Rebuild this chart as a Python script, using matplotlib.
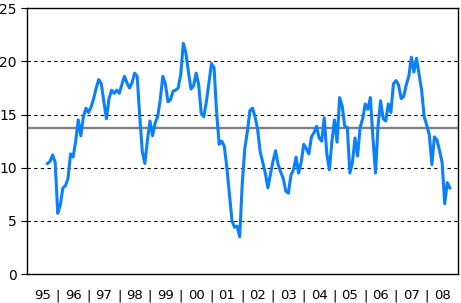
import matplotlib
matplotlib.use("Agg")
import matplotlib.pyplot as plt
import numpy as np

# monthly series, Sep 1995 .. Oct 2008
first_month = "1995-09"
values = [
    10.4, 10.6, 11.2, 10.5, 5.7, 6.5, 8.1, 8.3, 9.0, 11.3, 11.0, 12.5,
    14.5, 13.0, 14.8, 15.6, 15.2, 15.7, 16.5, 17.5, 18.3, 17.9, 16.2, 14.6,
    16.5, 17.3, 17.0, 17.3, 17.0, 17.8, 18.6, 18.0, 17.5, 18.0, 18.9, 18.6,
    14.8, 11.5, 10.4, 12.6, 14.4, 13.0, 14.2, 14.8, 16.4, 18.6, 17.9, 16.2,
    16.4, 17.2, 17.3, 17.5, 18.8, 21.7, 20.8, 19.0, 17.4, 17.7, 18.9, 17.8,
    15.1, 14.8, 16.2, 18.0, 19.8, 19.4, 15.2, 12.2, 12.5, 12.0, 10.0, 7.5,
    5.0, 4.4, 4.5, 3.5, 8.5, 11.8, 13.4, 15.4, 15.6, 14.8, 13.6, 11.5,
    10.5, 9.5, 8.1, 9.4, 10.6, 11.6, 10.3, 9.6, 9.0, 7.8, 7.6, 9.3,
    9.8, 11.0, 9.5, 10.5, 12.2, 11.8, 11.3, 12.9, 13.3, 13.9, 12.8, 12.5,
    14.7, 11.3, 9.8, 12.5, 14.5, 12.4, 16.6, 15.8, 13.9, 13.8, 9.5, 10.5,
    12.8, 11.1, 13.8, 14.6, 16.0, 15.5, 16.6, 12.8, 9.5, 14.0, 16.3, 14.6,
    14.4, 16.0, 15.2, 17.9, 18.2, 17.8, 16.5, 16.7, 17.8, 18.6, 20.4, 19.0,
    20.3, 18.8, 17.3, 14.8, 14.0, 13.1, 10.3, 12.9, 12.6, 11.6, 10.5, 6.6,
    8.6, 8.1,
]
average = 13.7
year_labels = ["95", "96", "97", "98", "99", "00", "01", "02", "03", "04",
               "05", "06", "07", "08"]


def main():
    fig = plt.figure(figsize=(4.61, 3.03), dpi=100)
    ax = fig.add_axes([27 / 461, 29 / 303, 430.5 / 461, 265.7 / 303])

    start = int(first_month[5:]) - 1 + (int(first_month[:4]) - 1995) * 12
    x = np.arange(start, start + len(values))

    for y in [5, 10, 15, 20]:
        ax.axhline(y, color='black', lw=0.8, ls=(0, (3, 3)), zorder=1)
    ax.axhline(average, color='#808080', lw=1.7, zorder=2)
    ax.plot(x, values, color='#0A80FF', lw=2.2, zorder=3)

    ax.set_xlim(0, 12 * len(year_labels))
    ax.set_ylim(0, 25)
    ax.set_yticks(np.arange(0, 26, 5))
    ax.set_xticks(np.arange(6, 12 * len(year_labels), 12))
    ax.set_xticklabels(year_labels)
    ax.set_xticks(np.arange(12, 12 * len(year_labels), 12), minor=True)
    ax.set_xticklabels(["|"] * (len(year_labels) - 1), minor=True)

    ax.tick_params(axis='x', which='both', length=0, pad=11, labelsize=9.5)
    ax.tick_params(axis='y', length=4.5, width=0.8, pad=3, labelsize=10)
    for s in ax.spines.values():
        s.set_linewidth(1.0)

    plt.savefig('out.png', dpi=100)
    plt.close()


if __name__ == '__main__':
    main()
